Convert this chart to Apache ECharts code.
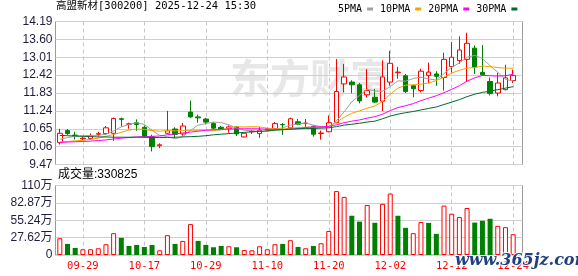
<!DOCTYPE html>
<html><head><meta charset="utf-8">
<script src="https://cdn.jsdelivr.net/npm/echarts@6/dist/echarts.min.js"></script>
<style>html,body{margin:0;padding:0;background:#fff}#c{width:578px;height:276px}</style>
</head><body><div id="c"></div>
<script>
// ---- data ----
const stockName = '高盟新材';
const stockCode = '300200';
const stampTime = '2025-12-24 15:30';
const dates = ['09-24','09-25','09-26','09-29','09-30','10-09','10-10','10-13','10-14','10-15','10-16','10-17','10-20','10-21','10-22','10-23','10-24','10-27','10-28','10-29','10-30','10-31','11-03','11-04','11-05','11-06','11-07','11-10','11-11','11-12','11-13','11-14','11-17','11-18','11-19','11-20','11-21','11-24','11-25','11-26','11-27','11-28','12-01','12-02','12-03','12-04','12-05','12-08','12-09','12-10','12-11','12-12','12-15','12-16','12-17','12-18','12-19','12-22','12-23','12-24'];
const opens  = [10.19,10.59,10.44,10.32,10.33,10.47,10.49,10.50,10.98,10.80,10.85,10.70,10.39,10.09,10.50,10.64,10.48,11.20,11.04,10.97,10.82,10.70,10.65,10.71,10.38,10.55,10.49,10.61,10.65,10.79,10.68,10.88,10.82,10.73,10.49,10.55,10.85,12.13,12.19,12.10,11.77,11.69,11.56,12.19,12.50,12.40,12.07,11.91,12.41,12.46,12.34,12.70,12.90,12.94,13.31,12.51,12.21,11.83,11.94,12.24];
const closes = [10.50,10.49,10.42,10.34,10.41,10.49,10.68,10.99,10.96,10.81,10.79,10.39,10.06,10.12,10.58,10.46,10.74,11.04,11.01,10.87,10.67,10.64,10.71,10.48,10.50,10.57,10.60,10.65,10.82,10.78,10.98,10.80,10.84,10.47,10.51,10.85,11.88,12.36,12.10,11.57,11.91,11.53,12.36,12.81,12.52,11.88,11.97,12.55,12.52,12.38,12.94,13.01,13.25,13.47,12.68,12.43,11.81,12.16,12.33,12.41];
const lows   = [10.13,10.44,10.30,10.27,10.28,10.39,10.44,10.25,10.72,10.65,10.58,10.35,9.90,10.01,10.47,10.35,10.42,11.01,10.85,10.79,10.63,10.61,10.52,10.41,10.36,10.48,10.35,10.58,10.63,10.45,10.63,10.77,10.70,10.39,10.29,10.53,10.83,11.85,11.82,11.49,11.68,11.50,11.23,12.07,12.30,11.83,11.69,11.85,12.16,12.07,11.91,12.50,12.79,12.21,12.46,12.40,11.75,11.72,11.92,12.16];
const highs  = [10.65,10.64,10.55,10.39,10.49,10.55,10.74,11.02,11.02,10.85,10.96,10.76,10.45,10.17,11.24,10.70,10.84,11.58,11.12,11.01,10.87,10.74,10.76,10.74,10.52,10.61,10.71,10.67,10.87,10.84,11.02,10.97,10.97,10.77,10.59,11.09,12.95,12.79,12.25,12.16,12.62,11.96,12.91,13.22,12.69,12.46,12.10,12.63,12.83,12.55,13.16,13.51,13.70,13.82,13.40,13.41,12.34,12.50,12.76,12.60];
const ma5  = [10.30,10.36,10.40,10.42,10.43,10.43,10.47,10.58,10.71,10.79,10.85,10.79,10.60,10.43,10.39,10.32,10.39,10.59,10.77,10.82,10.87,10.85,10.78,10.67,10.60,10.58,10.57,10.56,10.63,10.68,10.77,10.81,10.84,10.77,10.72,10.69,10.91,11.21,11.54,11.75,11.96,11.89,11.89,12.04,12.23,12.22,12.31,12.35,12.29,12.26,12.47,12.68,12.82,13.01,13.07,12.97,12.73,12.51,12.28,12.23];
const ma10 = [10.21,10.23,10.25,10.27,10.30,10.34,10.40,10.46,10.53,10.61,10.64,10.63,10.59,10.57,10.59,10.58,10.59,10.60,10.60,10.61,10.59,10.62,10.68,10.72,10.71,10.72,10.71,10.67,10.65,10.64,10.67,10.69,10.70,10.70,10.70,10.73,10.86,11.03,11.16,11.24,11.33,11.40,11.55,11.79,11.99,12.09,12.10,12.12,12.16,12.24,12.35,12.49,12.58,12.65,12.67,12.72,12.70,12.67,12.65,12.65];
const ma20 = [10.20,10.21,10.22,10.23,10.24,10.26,10.28,10.31,10.34,10.36,10.38,10.39,10.40,10.41,10.45,10.48,10.51,10.54,10.57,10.60,10.62,10.62,10.64,10.65,10.65,10.65,10.65,10.63,10.63,10.62,10.63,10.65,10.69,10.71,10.71,10.73,10.78,10.85,10.90,10.94,11.00,11.05,11.13,11.25,11.35,11.41,11.48,11.58,11.66,11.74,11.84,11.95,12.07,12.22,12.33,12.41,12.40,12.39,12.40,12.45];
const ma30 = [10.43,10.42,10.41,10.40,10.39,10.38,10.38,10.37,10.37,10.37,10.37,10.37,10.36,10.36,10.36,10.37,10.38,10.39,10.40,10.42,10.45,10.47,10.49,10.51,10.53,10.55,10.56,10.58,10.60,10.62,10.64,10.65,10.66,10.66,10.67,10.68,10.72,10.77,10.80,10.83,10.87,10.90,10.98,11.07,11.13,11.18,11.22,11.27,11.32,11.37,11.45,11.53,11.61,11.71,11.79,11.85,11.89,11.94,11.99,12.04];
// volume in 万 (10k) units
const volumes = [26.7,17.6,11.2,9.1,9.1,10.7,17.1,34.7,27.2,14.4,16.0,12.8,16.0,7.5,31.5,17.6,22.4,49.1,22.4,16.0,12.3,14.4,13.9,12.3,8.0,7.5,13.9,9.1,17.1,17.6,23.5,12.8,10.7,14.4,18.7,38.2,101.6,92.3,62.4,53.1,79.5,51.2,81.4,97.7,62.4,43.2,34.7,52.5,51.0,33.6,78.5,65.6,60.3,74.7,51.5,54.4,57.6,46.4,44.3,33.0825];
// 1 = red hollow volume bar, 0 = green filled
const volUp = [1,0,0,1,1,1,1,1,0,0,0,0,0,1,1,0,1,1,0,0,0,0,1,0,1,1,1,1,1,0,1,0,1,0,1,1,1,1,0,0,1,0,1,1,0,0,1,1,0,0,1,1,1,1,0,0,0,1,1,1];
const priceTickLabels = ['9.47','10.06','10.65','11.24','11.83','12.42','13.01','13.60','14.19'];
const volTickLabels = ['0','27.62万','55.24万','82.87万','110万'];
const xTickLabels = ['09-29','10-17','10-29','11-10','11-20','12-02','12-12','12-24'];
const maNames = ['5PMA','10PMA','20PMA','30PMA'];

// ---- styles ----
const RED = '#ff0000', GREEN = '#008000';
const maColors = ['#a0a0a0','#f5a300','#ff00ff','#006a33'];
const monoFont = '"DejaVu Sans Mono","Noto Sans CJK SC"';

const pMin = +priceTickLabels[0], pMax = +priceTickLabels[priceTickLabels.length-1];
const pStep = +(((pMax - pMin) / (priceTickLabels.length - 1)).toFixed(2));
const vStep = parseFloat(volTickLabels[1]);
const vMax = vStep * (volTickLabels.length - 1);

const showLabel = (idx, val) => xTickLabels.indexOf(val) >= 0;
const dashed = { show: true, interval: showLabel, alignWithLabel: true, lineStyle: { color: '#c8c8c8', type: [4, 3], width: 1 } };

const G = { plotL: 56, plotW: 461, frameL: 55.5, frameW: 467, pTop: 21.5, pH: 143, vTop: 185.5, vH: 69.5 };

const chart = echarts.init(document.getElementById('c'), null, { renderer: 'canvas' });
chart.setOption({
  animation: false,
  backgroundColor: '#fff',
  legend: {
    left: 338, top: 4, padding: 0, itemGap: 7, itemWidth: 6, itemHeight: 3, align: 'right',
    textStyle: { fontFamily: monoFont, fontSize: 10, color: '#000', padding: [0,0,0,0] },
    data: maNames.map((n, i) => ({ name: n, icon: 'rect', itemStyle: { color: maColors[i] } }))
  },
  grid: [
    { left: G.plotL, top: G.pTop, width: G.plotW, height: G.pH, show: false },
    { left: G.frameL, top: G.pTop, width: G.frameW, height: G.pH, show: true, borderColor: '#9a9a9a', borderWidth: 1, backgroundColor: 'transparent', z: 0 },
    { left: G.plotL, top: G.vTop, width: G.plotW, height: G.vH, show: false },
    { left: G.frameL, top: G.vTop, width: G.frameW, height: G.vH, show: true, borderColor: '#9a9a9a', borderWidth: 1, backgroundColor: 'transparent', z: 0 }
  ],
  xAxis: [
    { gridIndex: 0, type: 'category', data: dates, boundaryGap: true,
      axisLine: { show: false }, axisTick: { show: false }, axisLabel: { show: false }, splitLine: dashed },
    { gridIndex: 1, type: 'value', show: false },
    { gridIndex: 2, type: 'category', data: dates, boundaryGap: true,
      axisLine: { show: false }, axisTick: { show: false },
      axisLabel: { interval: showLabel, color: RED, fontFamily: monoFont, fontSize: 10.5, margin: 6 },
      splitLine: dashed },
    { gridIndex: 3, type: 'value', show: false }
  ],
  yAxis: [
    { gridIndex: 0, type: 'value', min: pMin, max: pMax, show: false },
    { gridIndex: 1, type: 'value', min: pMin, max: pMax, interval: pStep,
      axisLine: { show: false }, axisTick: { show: false },
      axisLabel: { color: '#1e1e3c', fontFamily: '"Liberation Sans", Arial', fontSize: 12, margin: 3, formatter: v => v.toFixed(2) },
      splitLine: { lineStyle: { color: '#d0d0d0', width: 1 } } },
    { gridIndex: 2, type: 'value', min: 0, max: vMax, show: false },
    { gridIndex: 3, type: 'value', min: 0, max: vMax, interval: vStep,
      axisLine: { show: false }, axisTick: { show: false },
      axisLabel: { color: '#1e1e3c', fontFamily: '"Liberation Sans","Noto Sans CJK SC"', fontSize: 12, margin: 3,
        formatter: (v, i) => volTickLabels[i] },
      splitLine: { lineStyle: { color: '#d0d0d0', width: 1 } } }
  ],
  series: [
    { type: 'candlestick', xAxisIndex: 0, yAxisIndex: 0, barWidth: 5,
      data: dates.map((d, i) => [opens[i], closes[i], lows[i], highs[i]]),
      itemStyle: { color: '#ffffff', color0: GREEN, borderColor: RED, borderColor0: GREEN, borderWidth: 1 } },
    ...[ma5, ma10, ma20, ma30].map((arr, k) => ({
      type: 'line', name: maNames[k], xAxisIndex: 0, yAxisIndex: 0, data: arr,
      showSymbol: false, symbol: 'none', lineStyle: { color: maColors[k], width: 1 }, itemStyle: { color: maColors[k] }, z: 3
    })),
    { type: 'bar', xAxisIndex: 2, yAxisIndex: 2, barWidth: 5,
      data: volumes.map((v, i) => ({ value: v,
        itemStyle: volUp[i] ? { color: '#ffffff', borderColor: RED, borderWidth: 1 } : { color: GREEN } })) }
  ],
  graphic: [
    { type: 'text', left: 56, top: 1, z: 10,
      style: { text: stockName + '[' + stockCode + '] ' + stampTime, font: '10.5px ' + monoFont, fill: '#000' } },
    { type: 'text', left: 58, top: 169, z: 10,
      style: { text: '成交量:' + Math.round(volumes[volumes.length-1] * 10000), font: '12px "Liberation Sans","Noto Sans CJK SC"', fill: '#000' } },
    { type: 'text', left: 230, top: 58, z: -1, silent: true,
      style: { text: '东方财富', font: 'bold 40px "Noto Sans CJK SC"', fill: 'rgba(175,175,175,0.3)' } },
    { type: 'text', left: 454, top: 252, z: 20, silent: true,
      style: { text: 'www.365jz.com', font: 'bold italic 16px "DejaVu Serif"', fill: '#1f3f80', stroke: '#ffffff', lineWidth: 2 } }
  ]
});
</script></body></html>
